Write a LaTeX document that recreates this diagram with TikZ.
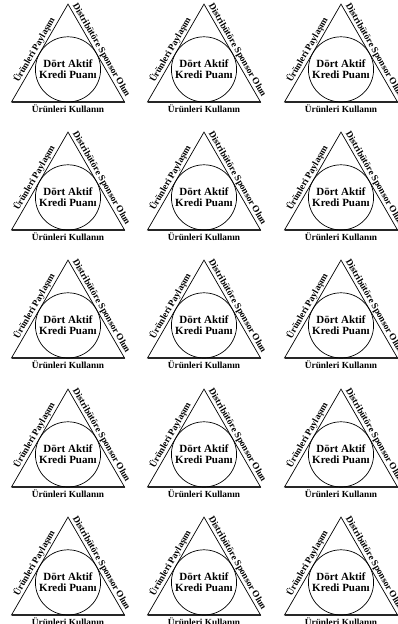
\documentclass[tikz,border=0pt]{standalone}
\usepackage{fontspec}
\setmainfont{Liberation Serif}
\begin{document}
\begin{tikzpicture}[x=1pt,y=1pt,
  tri/.style={draw=black, line width=0.7pt, line join=miter},
  basel/.style={draw=black!85, line width=1.1pt},
  sidelabel/.style={font=\bfseries\fontsize{9.3}{10}\selectfont, inner sep=1.2pt},
  botlabel/.style={font=\bfseries\fontsize{9.3}{10}\selectfont, inner sep=0pt},
  incircle/.style={circle, draw=black, line width=0.7pt, minimum size=65.2pt, inner sep=0pt,
    align=center, font=\bfseries\fontsize{11}{12.5}\selectfont}]
\useasboundingbox (0,0) rectangle (398,624);
\foreach \c/\bx in {1/68,2/204,3/341} {
  \foreach \r/\by in {1/522,2/394,3/266,4/137,5/9} {
    \coordinate (L\r\c) at (\bx-56.5,\by);
    \coordinate (R\r\c) at (\bx+56.5,\by);
    \coordinate (A\r\c) at (\bx,\by+97.9);
    \draw[tri] (L\r\c) -- (A\r\c) -- (R\r\c) -- cycle;
    \draw[basel] (L\r\c) -- (R\r\c);
    \node[incircle] (O\r\c) at (\bx,\by+32.6) {Dört Aktif\\[-1.5pt]Kredi Puanı};
    \path (L\r\c) -- (A\r\c) node[midway, sloped, above, sidelabel] (P\r\c) {Ürünleri Paylaşım};
    \path (A\r\c) -- (R\r\c) node[midway, sloped, above, sidelabel] (S\r\c) {Distribütöre Sponsor Olun};
    \node[botlabel] (K\r\c) at (\bx,\by-6.5) {Ürünleri Kullanın};
  }
}
\end{tikzpicture}
\end{document}
